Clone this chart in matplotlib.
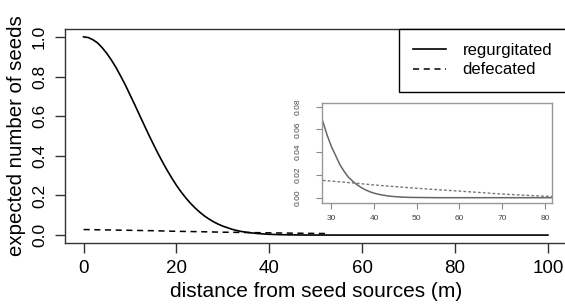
import matplotlib
matplotlib.use("Agg")
import matplotlib.pyplot as plt

plt.rcParams['font.family'] = ['Liberation Sans', 'DejaVu Sans']

# Main chart data
dist_regurg = [0, 1, 2, 3, 4, 5, 6, 7, 8, 9, 10, 11, 12, 13, 14, 15, 16, 17, 18, 19,
               20, 21, 22, 23, 24, 25, 26, 27, 28, 29, 30, 31, 32, 33, 34, 35, 36, 37,
               38, 39, 40, 41, 42, 43, 44, 45, 46, 47, 48, 50, 55, 60, 70, 80, 90, 100]
regurgitated = [1.000, 0.997, 0.986, 0.970, 0.946, 0.917, 0.883, 0.845, 0.802, 0.757,
                0.708, 0.659, 0.608, 0.558, 0.508, 0.460, 0.413, 0.369, 0.327, 0.288,
                0.251, 0.218, 0.188, 0.161, 0.137, 0.116, 0.097, 0.081, 0.067, 0.055,
                0.045, 0.037, 0.029, 0.023, 0.018, 0.0145, 0.0114, 0.0089, 0.0069, 0.0052,
                0.0040, 0.0030, 0.0023, 0.0017, 0.0012, 0.0009, 0.0006, 0.0005, 0.0003,
                0.0002, 0.0, 0.0, 0.0, 0.0, 0.0, 0.0]

dist_defec = [0, 5, 10, 15, 20, 25, 30, 35, 40, 45, 50, 52]
defecated = [0.028, 0.026, 0.024, 0.022, 0.019, 0.017, 0.0146, 0.013, 0.0112, 0.0097,
             0.0083, 0.0077]

# Inset data
inset_dist_defec = [28, 30, 35, 40, 45, 50, 55, 60, 65, 70, 75, 80, 82]
inset_defecated = [0.0152, 0.0146, 0.013, 0.0112, 0.0097, 0.0083, 0.007, 0.0058,
                   0.0045, 0.0032, 0.0022, 0.0013, 0.0011]

main_xticks = [0, 20, 40, 60, 80, 100]
main_yticks = [0.0, 0.2, 0.4, 0.6, 0.8, 1.0]
inset_xticks = [30, 40, 50, 60, 70, 80]
inset_yticks = [0.00, 0.02, 0.04, 0.06, 0.08]

W, H = 565, 304
fig = plt.figure(figsize=(W / 100, H / 100), dpi=100)

# main axes (right spine lies just outside the cropped picture)
l, r, t, b = 65, 566.5, 29, 243
ax = fig.add_axes([l / W, 1 - b / H, (r - l) / W, (b - t) / H])
ax.plot(dist_regurg, regurgitated, color='black', lw=1.2, label='regurgitated')
ax.plot(dist_defec, defecated, color='black', lw=1.1, dashes=(4, 3), label='defecated')
ax.set_xlim(-4, 104)
ax.set_ylim(-0.04, 1.04)
ax.set_xticks(main_xticks)
ax.set_yticks(main_yticks)
ax.set_xticklabels([str(v) for v in main_xticks], fontsize=13.5)
ax.set_yticklabels([f"{v:.1f}" for v in main_yticks], rotation=90, va='center',
                   fontsize=12.5)
ax.tick_params(axis='both', length=7, width=1, color='#333333')
ax.tick_params(axis='x', pad=5)
ax.tick_params(axis='y', pad=6)
for s in ax.spines.values():
    s.set_linewidth(1.0)
    s.set_color('#333333')
ax.set_xlabel('distance from seed sources (m)', fontsize=15, labelpad=4)
ax.set_ylabel('expected number of seeds', fontsize=14.7, labelpad=4)

leg = ax.legend(loc='upper right', bbox_to_anchor=(1, 1), borderaxespad=0,
                fancybox=False, edgecolor='black', framealpha=1, fontsize=12,
                handlelength=2.0, handletextpad=1.0, borderpad=0.85,
                labelspacing=0.25)
leg.get_frame().set_linewidth(1.0)

# inset
il, ir, it, ib = 322, 551.7, 103, 202.7
ins = fig.add_axes([il / W, 1 - ib / H, (ir - il) / W, (ib - it) / H])
ins.plot(dist_regurg, regurgitated, color='#666666', lw=1.1)
ins.plot(inset_dist_defec, inset_defecated, color='#777777', lw=1.0, dashes=(2, 1.5))
ins.set_xlim(27.8, 81.6)
ins.set_ylim(-0.0044, 0.0833)
ins.set_xticks(inset_xticks)
ins.set_yticks(inset_yticks)
ins.set_xticklabels([str(v) for v in inset_xticks], fontsize=6)
ins.set_yticklabels([f"{v:.2f}" for v in inset_yticks], rotation=90, va='center',
                    fontsize=6)
ins.tick_params(axis='both', length=4, width=0.8, color='#888888',
                labelcolor='#444444')
ins.tick_params(axis='x', pad=5)
ins.tick_params(axis='y', pad=11)
for s in ins.spines.values():
    s.set_linewidth(1.0)
    s.set_color('#999999')

fig.savefig('out.png', dpi=100)
